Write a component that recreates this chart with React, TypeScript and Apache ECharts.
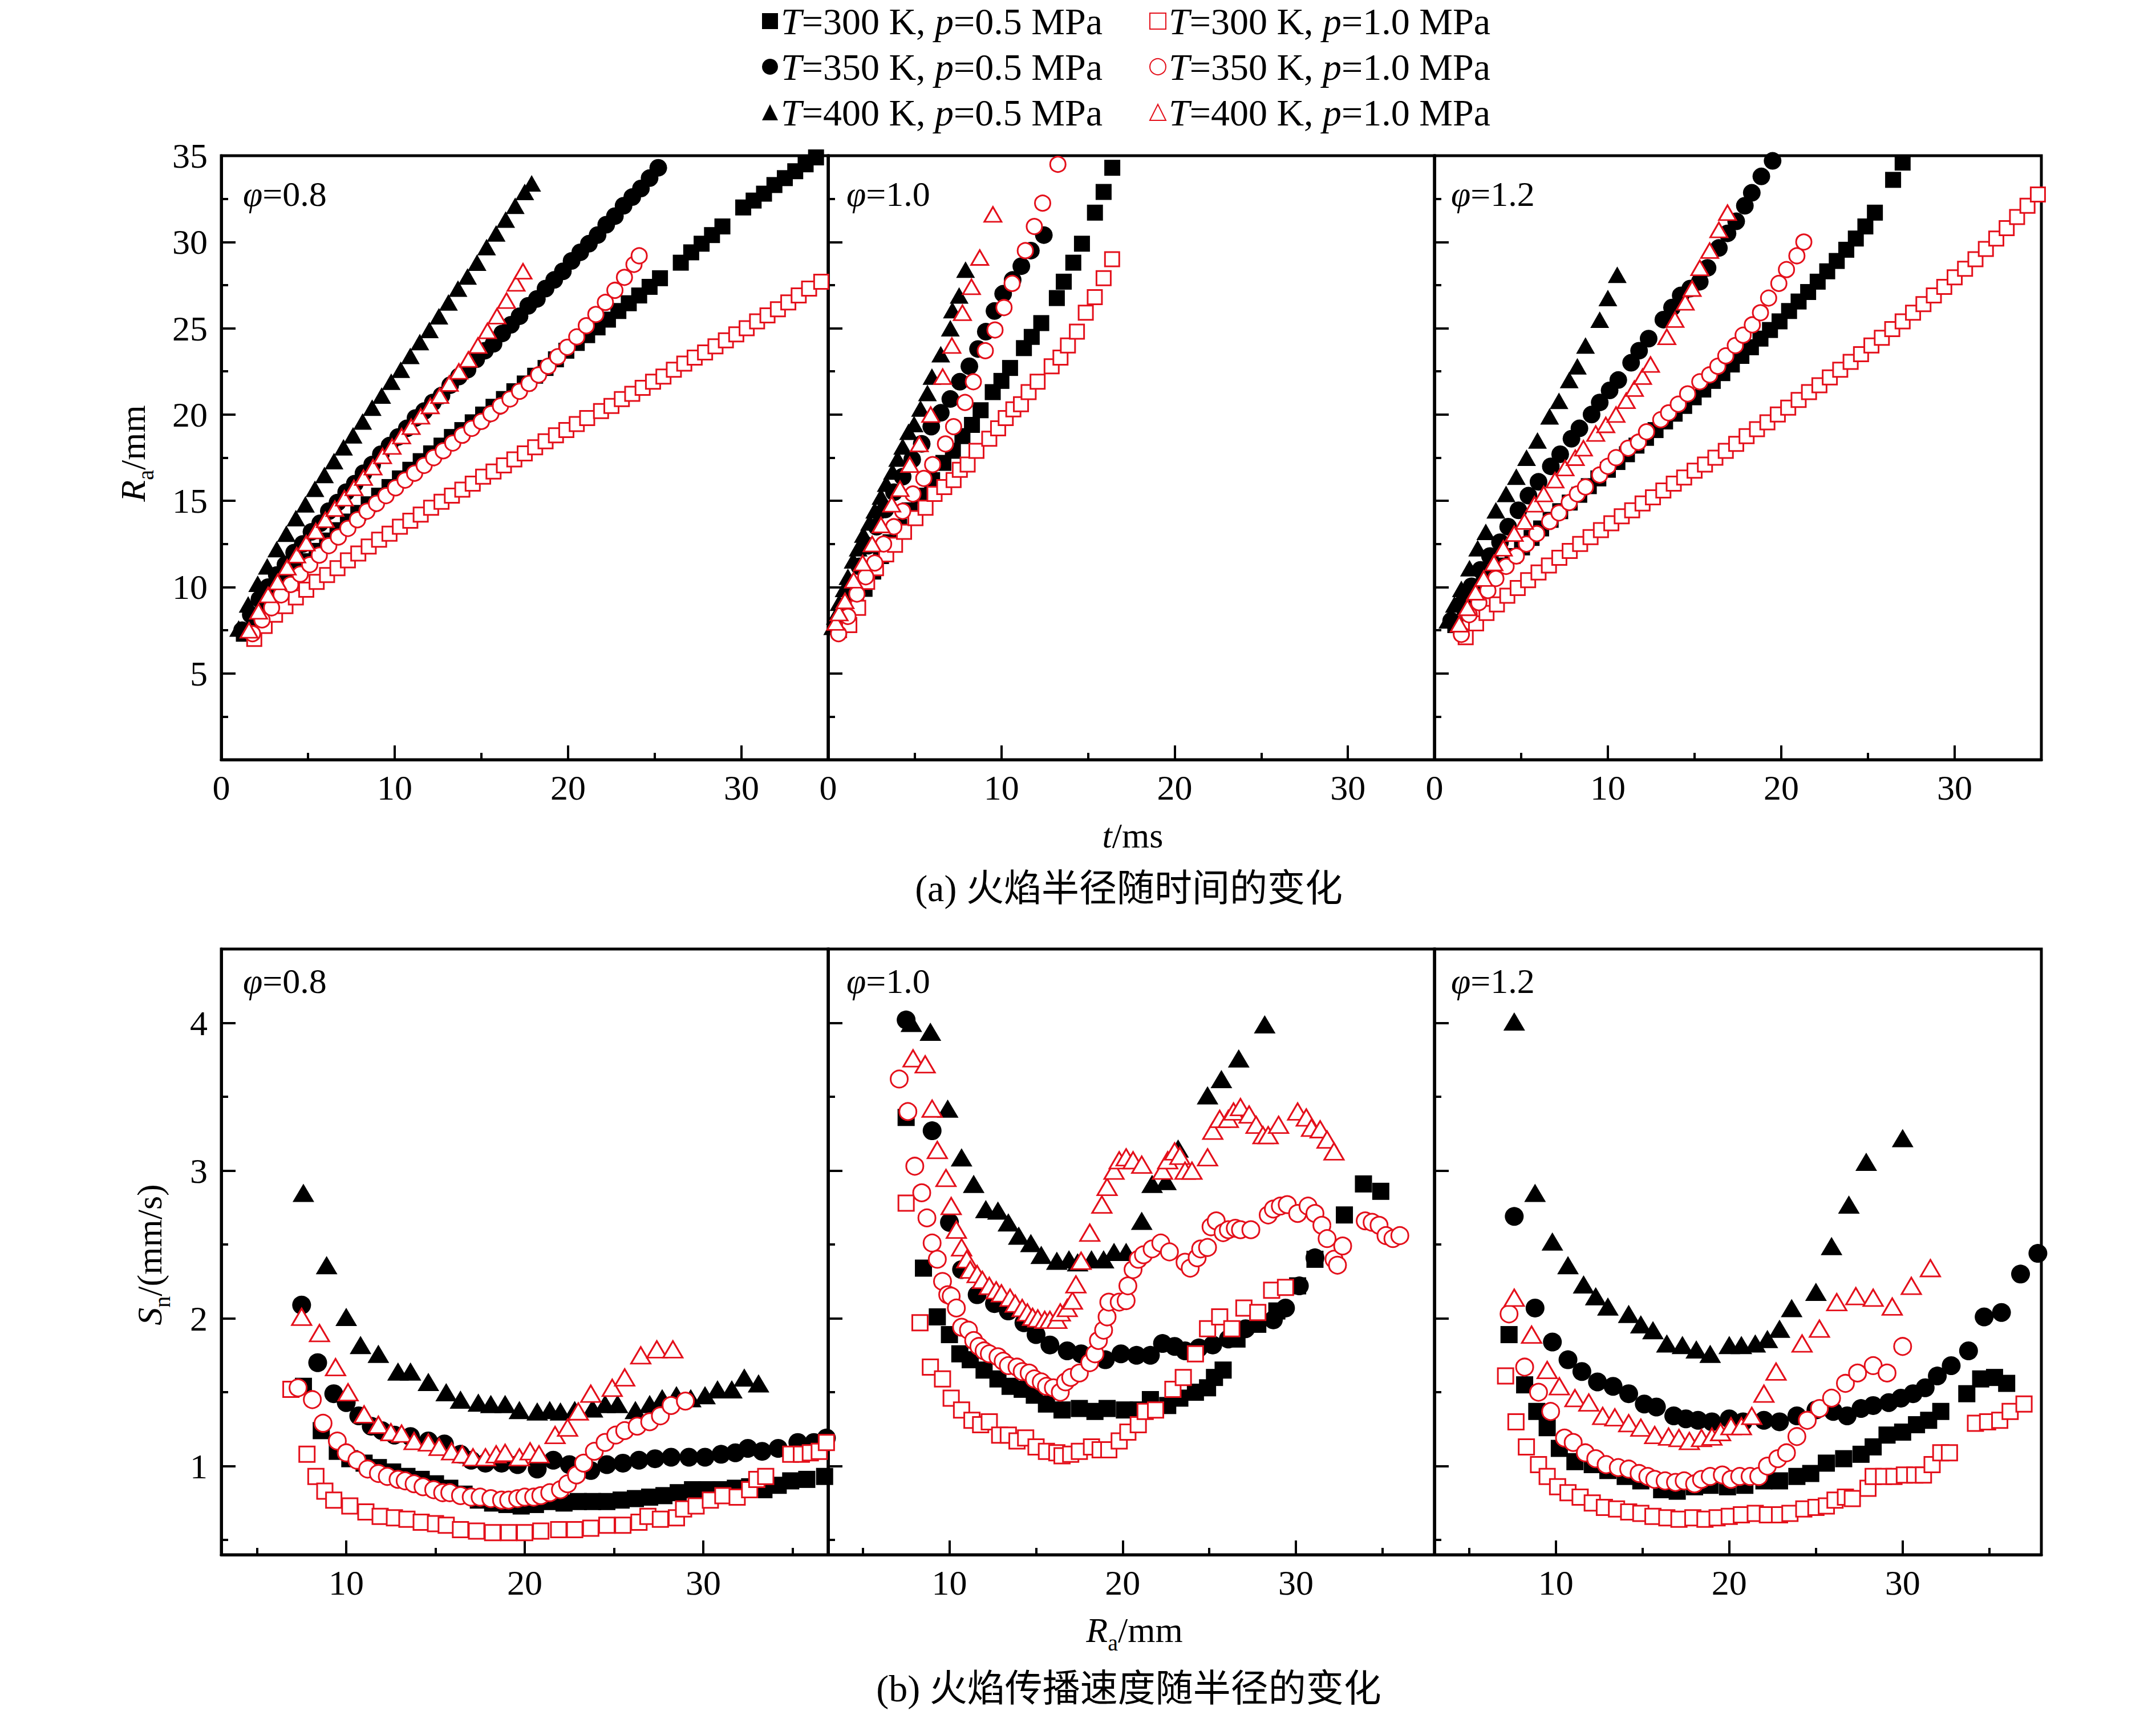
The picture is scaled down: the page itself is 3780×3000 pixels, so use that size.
import React, { useEffect, useRef } from 'react';
import * as echarts from 'echarts';

// ---- (a) flame radius R_a (mm) vs time t (ms) ----
// phi = 0.8
const rT08_300_05 = [[1.3,7.3],[1.9,8.2],[2.5,9.0],[3.1,9.7],[3.7,10.35],[4.3,10.95],[4.9,11.5],[5.5,12.1],[6.1,12.7],[6.7,13.3],[7.3,13.8],[7.9,14.3],[8.5,14.8],[9.1,15.3],[9.7,15.8],[10.3,16.3],[10.9,16.8],[11.5,17.3],[12.1,17.75],[12.7,18.2],[13.3,18.7],[13.9,19.1],[14.5,19.55],[15.1,20.0],[15.7,20.45],[16.3,20.9],[16.9,21.35],[17.5,21.8],[18.1,22.25],[18.7,22.7],[19.3,23.2],[19.9,23.7],[20.5,24.15],[21.1,24.6],[21.7,25.05],[22.3,25.5],[22.9,26.0],[23.5,26.45],[24.1,26.9],[24.7,27.4],[25.3,27.9],[26.5,28.8],[27.1,29.4],[27.7,29.9],[28.3,30.4],[28.9,30.9],[30.1,32.0],[30.7,32.4],[31.3,32.8],[31.9,33.3],[32.5,33.7],[33.1,34.1],[33.7,34.5],[34.3,34.9]];
const rT08_350_05 = [[1.2,7.5],[1.7,8.4],[2.2,9.3],[2.7,10.0],[3.2,10.7],[3.7,11.3],[4.2,12.0],[4.7,12.5],[5.2,13.2],[5.7,13.7],[6.2,14.4],[6.7,14.9],[7.2,15.5],[7.7,16.0],[8.2,16.6],[8.7,17.1],[9.2,17.7],[9.7,18.2],[10.2,18.7],[10.7,19.2],[11.2,19.8],[11.7,20.2],[12.2,20.7],[12.7,21.1],[13.2,21.7],[13.7,22.2],[14.2,22.6],[14.7,23.2],[15.2,23.7],[15.7,24.1],[16.2,24.7],[16.7,25.2],[17.2,25.7],[17.7,26.3],[18.2,26.7],[18.7,27.3],[19.2,27.8],[19.7,28.3],[20.2,28.9],[20.7,29.4],[21.2,29.9],[21.7,30.4],[22.2,31.0],[22.7,31.5],[23.2,32.1],[23.7,32.6],[24.2,33.1],[24.7,33.7],[25.2,34.3]];
const rT08_400_05 = [[1.0,7.6],[1.55,9.0],[2.1,10.2],[2.65,11.2],[3.2,12.2],[3.75,13.1],[4.3,14.0],[4.85,14.8],[5.4,15.7],[5.95,16.5],[6.5,17.3],[7.05,18.1],[7.6,18.8],[8.15,19.6],[8.7,20.4],[9.25,21.1],[9.8,21.9],[10.35,22.6],[10.9,23.4],[11.45,24.2],[12.0,24.9],[12.55,25.7],[13.1,26.5],[13.65,27.3],[14.2,28.0],[14.75,28.8],[15.3,29.7],[15.85,30.5],[16.4,31.3],[16.95,32.1],[17.5,32.9],[17.9,33.4]];
const rT08_300_10 = [[1.9,7.0],[2.5,7.75],[3.1,8.4],[3.7,8.9],[4.3,9.4],[4.9,9.85],[5.5,10.3],[6.1,10.7],[6.7,11.1],[7.3,11.55],[7.9,11.95],[8.5,12.35],[9.1,12.75],[9.7,13.1],[10.3,13.5],[10.9,13.85],[11.5,14.2],[12.1,14.6],[12.7,14.95],[13.3,15.3],[13.9,15.65],[14.5,16.0],[15.1,16.4],[15.7,16.7],[16.3,17.05],[16.9,17.4],[17.5,17.75],[18.1,18.1],[18.7,18.45],[19.3,18.8],[19.9,19.1],[20.5,19.45],[21.1,19.8],[21.9,20.2],[22.5,20.5],[23.1,20.9],[23.7,21.2],[24.3,21.55],[24.9,21.9],[25.5,22.2],[26.1,22.6],[26.7,22.95],[27.3,23.3],[27.9,23.6],[28.5,23.95],[29.1,24.3],[29.7,24.65],[30.3,25.0],[30.9,25.4],[31.5,25.75],[32.1,26.1],[32.7,26.5],[33.3,26.9],[33.9,27.3],[34.6,27.7]];
const rT08_350_10 = [[1.8,7.3],[2.35,8.1],[2.9,8.8],[3.45,9.55],[4.0,10.15],[4.55,10.75],[5.1,11.3],[5.65,11.85],[6.2,12.4],[6.75,12.9],[7.3,13.4],[7.85,13.9],[8.4,14.4],[8.95,14.85],[9.5,15.3],[10.05,15.75],[10.6,16.2],[11.15,16.6],[11.7,17.05],[12.25,17.5],[12.8,17.9],[13.35,18.35],[13.9,18.8],[14.45,19.2],[15.0,19.6],[15.55,20.05],[16.1,20.5],[16.65,20.9],[17.2,21.35],[17.75,21.8],[18.3,22.3],[18.85,22.8],[19.4,23.35],[19.95,23.9],[20.5,24.5],[21.05,25.15],[21.6,25.8],[22.15,26.5],[22.7,27.2],[23.25,27.95],[23.8,28.7],[24.1,29.2]];
const rT08_400_10 = [[1.6,7.5],[2.15,8.6],[2.7,9.55],[3.25,10.3],[3.8,11.15],[4.35,11.85],[4.9,12.55],[5.45,13.25],[6.0,13.9],[6.55,14.55],[7.1,15.15],[7.65,15.75],[8.2,16.35],[8.75,16.95],[9.3,17.6],[9.85,18.15],[10.4,18.75],[10.95,19.3],[11.5,19.9],[12.05,20.5],[12.6,21.1],[13.15,21.8],[13.7,22.5],[14.25,23.2],[14.8,24.0],[15.35,24.85],[15.9,25.7],[16.45,26.6],[17.0,27.6],[17.4,28.3]];

// phi = 1.0
const rT10_300_05 = [[0.63,7.7],[1.07,8.4],[1.6,9.2],[2.1,9.9],[2.6,10.9],[3.05,11.8],[3.6,12.6],[4.1,13.5],[4.7,14.45],[5.25,15.3],[6.0,16.2],[6.65,17.2],[7.2,17.9],[7.75,18.75],[8.3,19.4],[8.8,20.25],[9.5,21.3],[10.0,21.95],[10.5,22.7],[11.3,23.85],[11.75,24.5],[12.3,25.3],[13.2,26.75],[13.6,27.7],[14.15,28.8],[14.65,29.9],[15.4,31.7],[15.9,32.9],[16.4,34.3]];
const rT10_350_05 = [[0.5,7.8],[0.9,8.9],[1.35,10.1],[1.8,11.2],[2.3,12.4],[2.8,13.5],[3.3,14.5],[3.8,15.5],[4.3,16.4],[4.85,17.4],[5.4,18.3],[5.95,19.3],[6.5,20.1],[7.05,20.9],[7.6,21.9],[8.15,22.8],[8.65,23.8],[9.1,24.8],[9.6,26.0],[10.1,27.0],[10.65,27.8],[11.15,28.6],[11.7,29.5],[12.45,30.4]];
const rT10_400_05 = [[0.26,7.7],[0.41,8.3],[0.63,9.1],[0.92,9.9],[1.14,10.6],[1.44,11.55],[1.73,12.25],[2.03,13.05],[2.39,13.75],[2.69,14.45],[3.05,15.25],[3.35,16.0],[3.71,16.7],[4.01,17.45],[4.3,18.15],[4.64,19.0],[4.96,19.45],[5.33,20.35],[5.73,21.25],[5.99,22.2],[6.5,23.5],[7.05,25.0],[7.17,26.05],[7.56,26.9],[7.93,28.4]];
const rT10_300_10 = [[0.63,7.5],[1.22,7.8],[1.73,8.8],[2.25,10.3],[2.76,11.1],[3.35,11.9],[3.86,12.45],[4.38,13.2],[5.04,14.0],[5.62,14.6],[6.14,15.4],[6.7,15.8],[7.24,16.2],[7.6,16.8],[8.05,17.1],[8.56,17.9],[9.3,18.6],[9.81,19.2],[10.25,19.8],[10.69,20.3],[11.13,20.6],[11.57,21.3],[12.09,21.9],[12.9,22.8],[13.41,23.3],[13.84,24.0],[14.36,24.8],[14.87,25.9],[15.39,26.8],[15.9,27.9],[16.39,29.0]];
const rT10_350_10 = [[0.6,7.3],[1.14,8.3],[1.66,9.6],[2.17,10.6],[2.69,11.4],[3.2,12.5],[3.79,13.5],[4.3,14.4],[4.89,15.4],[5.52,16.3],[6.03,17.1],[6.77,18.3],[7.24,19.3],[7.9,20.7],[8.38,21.9],[9.07,23.7],[9.63,24.9],[10.15,26.2],[10.62,27.6],[11.38,29.5],[11.9,30.9],[12.38,32.25],[13.26,34.5]];
const rT10_400_10 = [[0.44,7.95],[0.63,8.5],[0.97,9.2],[1.47,10.4],[1.99,11.4],[2.54,12.5],[3.05,13.6],[3.67,14.8],[4.15,15.7],[4.71,17.1],[5.26,18.3],[5.92,20.0],[6.61,22.2],[7.14,24.0],[7.75,25.9],[8.27,27.4],[8.75,29.1],[9.51,31.6]];

// phi = 1.2
const rT12_300_05 = [[1.2,7.8],[1.75,8.75],[2.3,9.45],[2.85,10.1],[3.4,10.7],[3.95,11.25],[4.5,11.8],[5.05,12.3],[5.6,12.85],[6.15,13.4],[6.7,13.9],[7.25,14.4],[7.8,14.9],[8.35,15.35],[8.9,15.85],[9.45,16.3],[10.0,16.8],[10.55,17.25],[11.1,17.7],[11.65,18.2],[12.2,18.65],[12.75,19.1],[13.3,19.6],[13.85,20.05],[14.4,20.5],[14.95,21.0],[15.5,21.45],[16.05,21.95],[16.6,22.4],[17.15,22.9],[17.7,23.4],[18.25,23.9],[18.8,24.4],[19.35,24.9],[19.9,25.4],[20.45,26.0],[21.0,26.55],[21.55,27.1],[22.1,27.7],[22.65,28.3],[23.2,28.9],[23.75,29.55],[24.3,30.2],[24.85,30.9],[25.4,31.7],[26.45,33.6],[27.0,34.6]];
const rT12_350_05 = [[0.96,8.05],[1.55,9.0],[2.14,10.05],[2.65,11.0],[3.2,11.8],[3.78,12.6],[4.25,13.5],[4.84,14.45],[5.42,15.3],[6.0,16.1],[6.71,17.0],[7.25,17.7],[7.9,18.6],[8.36,19.2],[9.06,20.0],[9.53,20.7],[10.1,21.4],[10.6,22.0],[11.34,23.0],[11.8,23.7],[12.35,24.4],[13.2,25.5],[13.7,26.2],[14.2,26.9],[14.75,27.3],[15.3,27.7],[15.75,28.5],[16.4,29.65],[16.9,30.5],[17.4,31.2],[17.9,32.1],[18.3,32.85],[18.85,33.8],[19.5,34.7]];
const rT12_400_05 = [[0.77,8.07],[1.15,9.0],[1.55,9.9],[2.02,11.1],[2.49,12.25],[2.96,13.2],[3.54,14.45],[4.13,15.4],[4.72,16.4],[5.31,17.5],[5.94,18.5],[6.64,19.9],[7.18,20.8],[7.77,22.0],[8.24,22.8],[8.71,24.0],[9.53,25.5],[10.0,26.75],[10.54,28.1]];
const rT12_300_10 = [[1.8,7.1],[2.4,7.9],[3.0,8.5],[3.6,9.0],[4.2,9.5],[4.8,9.95],[5.4,10.4],[6.0,10.85],[6.6,11.25],[7.2,11.7],[7.8,12.1],[8.4,12.5],[9.0,12.9],[9.6,13.3],[10.2,13.7],[10.8,14.1],[11.4,14.45],[12.0,14.85],[12.6,15.2],[13.2,15.6],[13.8,16.0],[14.4,16.35],[15.0,16.75],[15.6,17.1],[16.2,17.5],[16.8,17.9],[17.4,18.3],[18.0,18.75],[18.6,19.15],[19.2,19.55],[19.8,20.0],[20.4,20.4],[21.0,20.85],[21.6,21.3],[22.2,21.7],[22.8,22.15],[23.4,22.6],[24.0,23.05],[24.6,23.5],[25.2,24.0],[25.8,24.45],[26.4,24.95],[27.0,25.4],[27.6,25.9],[28.2,26.4],[28.8,26.9],[29.4,27.4],[30.0,27.95],[30.6,28.45],[31.2,29.0],[31.8,29.6],[32.4,30.2],[33.0,30.8],[33.6,31.45],[34.2,32.1],[34.8,32.75]];
const rT12_350_10 = [[1.55,7.26],[2.0,8.4],[2.56,9.1],[3.08,9.8],[3.54,10.5],[4.13,11.2],[4.72,11.8],[5.3,12.5],[5.9,13.1],[6.64,13.8],[7.18,14.3],[7.77,14.9],[8.24,15.4],[8.71,15.8],[9.53,16.5],[10.0,17.0],[10.47,17.5],[11.17,18.05],[11.76,18.4],[12.23,19.0],[13.05,19.7],[13.5,20.1],[14.06,20.6],[14.6,21.2],[15.3,21.9],[15.87,22.3],[16.34,22.8],[16.8,23.4],[17.35,24.0],[17.8,24.6],[18.33,25.2],[18.8,25.9],[19.27,26.75],[19.86,27.6],[20.3,28.4],[20.9,29.2],[21.3,30.0]];
const rT12_400_10 = [[1.43,7.85],[1.9,8.8],[2.37,9.7],[2.84,10.5],[3.43,11.4],[3.97,12.25],[4.6,13.1],[5.19,13.8],[5.77,14.8],[6.3,15.4],[6.95,16.2],[7.53,16.9],[8.12,17.5],[8.59,18.05],[9.3,18.9],[9.88,19.4],[10.47,20.0],[11.06,20.8],[11.53,21.5],[12.0,22.2],[12.46,22.9],[13.4,24.5],[13.87,25.5],[14.46,26.5],[14.86,27.3],[15.3,28.5],[15.87,29.5],[16.4,30.7],[16.9,31.7]];

// ---- (b) flame speed S_n vs radius R_a (mm) ----
// phi = 0.8
const sR08_300_05 = [[7.6,1.54],[8.6,1.24],[9.5,1.10],[10.2,1.05],[11.0,1.02],[11.8,0.99],[12.6,0.96],[13.4,0.93],[14.2,0.91],[15.0,0.88],[15.8,0.85],[16.6,0.81],[17.4,0.77],[18.2,0.75],[19.0,0.74],[19.8,0.73],[20.6,0.74],[21.4,0.76],[22.2,0.75],[23.0,0.76],[23.8,0.76],[24.6,0.76],[25.4,0.77],[26.2,0.78],[27.0,0.79],[27.8,0.80],[28.6,0.82],[29.4,0.84],[30.2,0.84],[31.0,0.84],[31.8,0.85],[32.6,0.86],[33.4,0.84],[34.2,0.87],[34.9,0.90],[35.8,0.91],[36.8,0.93]];
const sR08_350_05 = [[7.5,2.09],[8.4,1.70],[9.3,1.49],[10.0,1.43],[10.7,1.34],[11.4,1.27],[12.0,1.24],[12.7,1.21],[13.6,1.20],[14.6,1.17],[15.5,1.15],[16.4,1.08],[17.0,1.04],[17.8,1.02],[18.7,1.02],[19.6,1.01],[20.7,0.98],[21.6,1.04],[22.5,1.01],[23.7,0.97],[24.6,1.01],[25.5,1.02],[26.4,1.04],[27.3,1.05],[28.2,1.06],[29.2,1.06],[30.1,1.06],[31.0,1.08],[31.8,1.09],[32.5,1.12],[33.3,1.10],[34.2,1.12],[35.3,1.16],[36.2,1.16],[36.9,1.19]];
const sR08_400_05 = [[7.6,2.85],[8.9,2.36],[10.0,2.01],[10.8,1.82],[11.8,1.76],[12.9,1.64],[13.6,1.64],[14.6,1.57],[15.6,1.50],[16.4,1.45],[17.4,1.43],[18.1,1.42],[18.9,1.42],[19.7,1.38],[20.7,1.37],[21.4,1.38],[22.0,1.37],[22.8,1.38],[23.8,1.39],[24.5,1.42],[25.2,1.42],[26.2,1.38],[27.0,1.42],[27.7,1.46],[28.5,1.48],[29.3,1.46],[30.1,1.48],[30.8,1.52],[31.6,1.52],[32.3,1.60],[33.1,1.56]];
const sR08_300_10 = [[6.9,1.52],[7.8,1.08],[8.3,0.93],[8.8,0.83],[9.3,0.77],[10.2,0.73],[11.1,0.69],[11.9,0.66],[12.7,0.65],[13.4,0.64],[14.2,0.62],[15.0,0.61],[15.6,0.60],[16.4,0.57],[17.3,0.56],[18.2,0.55],[19.1,0.55],[20.0,0.55],[20.9,0.56],[21.9,0.57],[22.8,0.57],[23.7,0.58],[24.6,0.60],[25.5,0.60],[26.4,0.62],[26.9,0.66],[27.6,0.64],[28.5,0.65],[28.9,0.71],[29.6,0.73],[30.4,0.77],[31.1,0.80],[31.9,0.79],[32.6,0.84],[33.0,0.91],[33.5,0.93],[34.9,1.08],[35.5,1.08],[36.0,1.09],[36.5,1.10],[36.9,1.16]];
const sR08_350_10 = [[7.3,1.53],[8.1,1.45],[8.7,1.29],[9.5,1.17],[10.0,1.09],[10.6,1.04],[11.2,0.98],[11.8,0.95],[12.3,0.93],[12.9,0.91],[13.3,0.90],[13.8,0.88],[14.3,0.86],[14.9,0.84],[15.4,0.82],[15.8,0.82],[16.4,0.80],[17.0,0.79],[17.5,0.79],[18.1,0.78],[18.7,0.77],[19.1,0.77],[19.6,0.78],[20.0,0.79],[20.5,0.79],[20.9,0.80],[21.4,0.82],[22.0,0.84],[22.4,0.88],[22.9,0.94],[23.3,1.02],[23.9,1.10],[24.5,1.16],[25.1,1.21],[25.6,1.24],[26.3,1.27],[27.0,1.30],[27.6,1.34],[28.2,1.41],[29.0,1.44]];
const sR08_400_10 = [[7.5,2.01],[8.5,1.90],[9.4,1.67],[10.1,1.50],[11.0,1.35],[11.8,1.28],[12.5,1.23],[13.1,1.22],[13.8,1.17],[14.6,1.16],[15.2,1.13],[15.9,1.10],[16.5,1.08],[17.1,1.06],[17.8,1.06],[18.4,1.08],[18.9,1.09],[19.7,1.06],[20.3,1.10],[20.8,1.08],[21.7,1.21],[22.4,1.26],[23.0,1.37],[23.7,1.49],[24.9,1.53],[25.6,1.60],[26.5,1.75],[27.4,1.79],[28.3,1.79]];

// phi = 1.0
const sR10_300_05 = [[7.5,3.36],[8.5,2.34],[9.3,2.01],[10.0,1.89],[10.6,1.76],[11.2,1.72],[12.0,1.65],[12.8,1.59],[13.5,1.54],[14.2,1.52],[14.9,1.48],[15.6,1.42],[16.5,1.38],[17.5,1.39],[18.4,1.37],[19.1,1.39],[20.1,1.38],[20.9,1.38],[21.6,1.45],[22.6,1.41],[23.3,1.46],[24.2,1.50],[24.9,1.53],[25.3,1.60],[25.8,1.65],[26.6,1.86],[27.8,1.96],[28.9,2.05],[30.1,2.22],[31.1,2.40],[32.8,2.70],[33.9,2.91],[34.9,2.86]];
const sR10_350_05 = [[7.5,4.02],[9.0,3.27],[10.0,2.65],[10.7,2.33],[11.6,2.16],[12.6,2.10],[13.4,2.05],[14.3,1.97],[15.0,1.89],[15.8,1.82],[16.8,1.78],[17.6,1.76],[19.0,1.72],[19.9,1.76],[20.8,1.75],[21.6,1.75],[22.3,1.83],[23.0,1.81],[23.6,1.78],[24.4,1.80],[25.2,1.82],[26.1,1.86],[27.1,1.93],[27.9,1.99],[28.7,1.99],[29.4,2.07],[30.2,2.22],[31.1,2.41]];
const sR10_400_05 = [[7.8,4.00],[8.9,3.94],[9.9,3.42],[10.7,3.09],[11.4,2.91],[12.1,2.74],[12.8,2.73],[13.4,2.65],[14.0,2.56],[14.7,2.51],[15.3,2.43],[16.2,2.39],[16.9,2.40],[17.4,2.38],[18.2,2.40],[18.9,2.40],[19.5,2.45],[20.2,2.45],[21.1,2.66],[21.7,2.91],[22.5,2.93],[23.2,3.15],[24.9,3.51],[25.7,3.62],[26.7,3.76],[28.2,3.99]];
const sR10_300_10 = [[7.5,2.78],[8.3,1.97],[8.9,1.67],[9.6,1.59],[10.1,1.46],[10.7,1.38],[11.3,1.31],[11.8,1.28],[12.3,1.30],[12.9,1.21],[13.4,1.21],[13.9,1.17],[14.4,1.19],[15.0,1.13],[15.6,1.10],[16.2,1.09],[16.5,1.07],[17.0,1.08],[17.5,1.10],[18.2,1.13],[18.7,1.11],[19.2,1.11],[19.8,1.17],[20.3,1.23],[20.9,1.28],[21.3,1.37],[21.9,1.38],[22.9,1.52],[23.5,1.60],[24.2,1.76],[24.9,1.93],[25.6,2.01],[26.3,1.93],[27.0,2.07],[27.8,2.04],[28.6,2.19],[29.4,2.21]];
const sR10_350_10 = [[7.1,3.62],[7.6,3.40],[8.0,3.03],[8.4,2.85],[8.7,2.68],[9.0,2.51],[9.3,2.40],[9.6,2.25],[9.9,2.16],[10.1,2.15],[10.4,2.07],[10.7,1.94],[11.1,1.92],[11.4,1.85],[11.7,1.81],[12.0,1.78],[12.3,1.76],[12.8,1.74],[13.1,1.71],[13.4,1.68],[13.9,1.67],[14.2,1.64],[14.6,1.63],[14.9,1.59],[15.3,1.57],[15.6,1.54],[16.0,1.53],[16.4,1.50],[16.7,1.57],[17.0,1.60],[17.5,1.63],[18.1,1.70],[18.4,1.76],[18.6,1.85],[18.9,1.92],[19.1,2.01],[19.2,2.11],[19.8,2.11],[20.2,2.12],[20.3,2.22],[20.6,2.33],[20.9,2.40],[21.2,2.43],[21.7,2.47],[22.2,2.51],[22.7,2.45],[23.6,2.38],[23.9,2.34],[24.3,2.41],[24.5,2.47],[24.9,2.48],[25.1,2.62],[25.4,2.66],[25.8,2.58],[26.1,2.60],[26.5,2.61],[26.8,2.60],[27.4,2.60],[28.4,2.70],[28.7,2.74],[29.1,2.76],[29.5,2.77],[30.1,2.71],[30.7,2.76],[31.1,2.71],[31.5,2.63],[31.8,2.54],[32.2,2.40],[32.4,2.36],[32.7,2.49],[34.0,2.66],[34.4,2.65],[34.8,2.63],[35.2,2.56],[35.6,2.54],[36.0,2.56]];
const sR10_400_10 = [[7.9,3.76],[8.6,3.72],[9.0,3.42],[9.3,3.14],[9.8,2.95],[10.1,2.76],[10.4,2.60],[10.7,2.48],[11.0,2.40],[11.2,2.33],[11.6,2.30],[11.9,2.26],[12.3,2.22],[12.7,2.19],[13.0,2.17],[13.5,2.14],[13.8,2.10],[14.2,2.07],[14.5,2.04],[14.8,2.01],[15.1,2.00],[15.5,1.99],[15.8,1.99],[16.2,1.99],[16.4,2.04],[16.8,2.07],[17.1,2.12],[17.3,2.23],[17.6,2.39],[18.1,2.58],[18.8,2.77],[19.1,2.89],[19.5,3.00],[19.8,3.07],[20.2,3.09],[20.6,3.07],[21.1,3.04],[22.3,3.00],[22.6,3.07],[23.0,3.13],[23.3,3.10],[23.6,3.00],[24.0,3.00],[24.9,3.09],[25.2,3.27],[25.6,3.35],[26.1,3.35],[26.4,3.40],[26.8,3.43],[27.3,3.38],[27.7,3.31],[28.1,3.24],[28.4,3.24],[29.0,3.31],[30.1,3.40],[30.6,3.36],[30.9,3.29],[31.4,3.28],[31.8,3.21],[32.2,3.13]];

// phi = 1.2
const sR12_300_05 = [[7.3,1.89],[8.2,1.55],[8.9,1.37],[9.5,1.26],[10.2,1.12],[11.1,1.03],[12.1,1.01],[13.0,0.97],[14.0,0.93],[14.9,0.90],[16.1,0.84],[17.0,0.83],[18.0,0.86],[18.9,0.87],[19.9,0.86],[20.9,0.87],[22.0,0.90],[22.9,0.90],[23.9,0.93],[24.7,0.95],[25.6,1.02],[26.6,1.05],[27.6,1.08],[28.3,1.13],[29.1,1.21],[30.0,1.23],[30.8,1.28],[31.5,1.31],[32.2,1.37],[33.7,1.49],[34.5,1.59],[35.3,1.60],[36.0,1.56]];
const sR12_350_05 = [[7.6,2.69],[8.8,2.07],[9.8,1.84],[10.7,1.72],[11.5,1.64],[12.4,1.57],[13.3,1.54],[14.2,1.49],[15.1,1.42],[15.8,1.40],[16.8,1.34],[17.5,1.32],[18.2,1.31],[19.0,1.30],[20.0,1.32],[20.8,1.30],[22.0,1.31],[22.9,1.30],[23.9,1.34],[25.0,1.38],[26.0,1.37],[26.8,1.34],[27.6,1.39],[28.3,1.41],[29.2,1.43],[29.9,1.46],[30.6,1.49],[31.3,1.53],[32.0,1.61],[32.8,1.68],[33.8,1.78],[34.7,2.01],[35.7,2.04],[36.8,2.30],[37.8,2.44]];
const sR12_400_05 = [[7.6,4.01],[8.8,2.85],[9.8,2.52],[10.7,2.36],[11.6,2.23],[12.3,2.15],[13.0,2.08],[14.2,2.03],[14.9,1.96],[15.6,1.92],[16.4,1.83],[17.3,1.82],[18.1,1.79],[18.9,1.76],[20.0,1.82],[20.7,1.82],[21.5,1.83],[22.2,1.86],[22.9,1.93],[23.6,2.07],[25.0,2.18],[25.9,2.49],[26.9,2.77],[27.9,3.06],[30.0,3.22]];
const sR12_300_10 = [[7.1,1.61],[7.7,1.30],[8.3,1.13],[9.0,1.01],[9.5,0.93],[10.1,0.86],[10.7,0.82],[11.4,0.79],[12.1,0.75],[12.8,0.72],[13.5,0.71],[14.2,0.69],[14.9,0.68],[15.6,0.66],[16.4,0.65],[17.1,0.64],[17.9,0.65],[18.6,0.64],[19.3,0.65],[20.0,0.66],[20.7,0.67],[21.5,0.68],[22.2,0.67],[22.9,0.67],[23.5,0.68],[24.3,0.71],[25.0,0.72],[25.6,0.73],[26.1,0.77],[26.7,0.79],[27.1,0.78],[28.0,0.85],[28.3,0.93],[28.9,0.93],[29.5,0.93],[30.1,0.94],[30.7,0.94],[31.2,0.94],[31.7,1.01],[32.2,1.09],[32.7,1.09],[34.2,1.29],[34.9,1.30],[35.6,1.31],[36.2,1.37],[37.0,1.42]];
const sR12_350_10 = [[7.3,2.03],[8.2,1.67],[9.0,1.50],[9.7,1.37],[10.5,1.19],[11.0,1.16],[11.7,1.09],[12.3,1.05],[12.9,1.01],[13.6,0.99],[14.2,0.98],[14.8,0.95],[15.3,0.93],[15.7,0.91],[16.3,0.90],[16.9,0.89],[17.4,0.90],[18.0,0.88],[18.4,0.91],[18.9,0.93],[19.6,0.94],[20.1,0.91],[20.6,0.93],[21.2,0.93],[21.7,0.93],[22.2,1.00],[22.8,1.05],[23.3,1.09],[23.9,1.20],[24.5,1.31],[25.2,1.39],[25.9,1.46],[26.7,1.56],[27.4,1.63],[28.3,1.68],[29.1,1.63],[30.0,1.81]];
const sR12_400_10 = [[7.6,2.14],[8.6,1.89],[9.5,1.65],[10.2,1.54],[11.1,1.46],[11.9,1.43],[12.7,1.34],[13.4,1.33],[14.2,1.29],[14.9,1.26],[15.7,1.21],[16.5,1.20],[17.1,1.19],[17.7,1.17],[18.4,1.19],[19.0,1.20],[19.5,1.23],[20.1,1.27],[20.7,1.27],[21.3,1.34],[22.0,1.49],[22.7,1.64],[24.2,1.83],[25.2,1.93],[26.2,2.11],[27.3,2.15],[28.3,2.14],[29.4,2.08],[30.5,2.22],[31.6,2.34]];

const seriesNames = [
  'T=300 K, p=0.5 MPa',
  'T=350 K, p=0.5 MPa',
  'T=400 K, p=0.5 MPa',
  'T=300 K, p=1.0 MPa',
  'T=350 K, p=1.0 MPa',
  'T=400 K, p=1.0 MPa',
];
const phiLabels = ['0.8', '1.0', '1.2'];

const topData = [
  [rT08_300_05, rT08_350_05, rT08_400_05, rT08_300_10, rT08_350_10, rT08_400_10],
  [rT10_300_05, rT10_350_05, rT10_400_05, rT10_300_10, rT10_350_10, rT10_400_10],
  [rT12_300_05, rT12_350_05, rT12_400_05, rT12_300_10, rT12_350_10, rT12_400_10],
];
const bottomData = [
  [sR08_300_05, sR08_350_05, sR08_400_05, sR08_300_10, sR08_350_10, sR08_400_10],
  [sR10_300_05, sR10_350_05, sR10_400_05, sR10_300_10, sR10_350_10, sR10_400_10],
  [sR12_300_05, sR12_350_05, sR12_400_05, sR12_300_10, sR12_350_10, sR12_400_10],
];

const SERIF = '"Liberation Serif", "Times New Roman", serif';
const CAPTION_FONT = '"Liberation Serif", "Noto Sans CJK SC", serif';
const RED = '#e4101b';

// marker look per condition (top panel size, bottom panel size)
const markerStyle = [
  { symbol: 'rect', red: false, top: 28, bottom: 30 },
  { symbol: 'circle', red: false, top: 31, bottom: 33 },
  { symbol: 'triangle', red: false, top: [33, 29], bottom: [38, 32] },
  { symbol: 'rect', red: true, top: 25, bottom: 27 },
  { symbol: 'circle', red: true, top: 27, bottom: 30 },
  { symbol: 'triangle', red: true, top: [30, 26], bottom: [34, 29] },
];

const panelLeft = [388, 1452, 2515];
const panelWidth = [1064, 1063, 1064];
const TOP_Y = 273;
const TOP_H = 1059;
const BOT_Y = 1664;
const BOT_H = 1062;

const LABEL_SIZE = 62;
const LEGEND_SIZE = 66;

function FlameChart() {
  const chartRef = useRef<HTMLDivElement | null>(null);

  useEffect(() => {
    if (!chartRef.current) return undefined;
    const chart = echarts.init(chartRef.current, null, { renderer: 'svg' });

    const axisLine = { show: true, onZero: false, lineStyle: { color: '#000', width: 5 } };
    const axisTick = { show: true, inside: true, length: 25, lineStyle: { color: '#000', width: 4 } };
    const minorTick = { show: true, splitNumber: 2, length: 12, lineStyle: { color: '#000', width: 4 } };
    const labelText = { color: '#000', fontFamily: SERIF, fontSize: LABEL_SIZE };

    const grids: any[] = [];
    const xAxes: any[] = [];
    const yAxes: any[] = [];
    const series: any[] = [];

    for (let row = 0; row < 2; row++) {
      for (let i = 0; i < 3; i++) {
        const idx = row * 3 + i;
        grids.push({
          left: panelLeft[i],
          top: row === 0 ? TOP_Y : BOT_Y,
          width: panelWidth[i],
          height: row === 0 ? TOP_H : BOT_H,
          show: true,
          borderColor: '#000',
          borderWidth: 5,
          backgroundColor: 'transparent',
          containLabel: false,
          outerBoundsMode: 'none',
        });
        if (row === 0) {
          xAxes.push({
            gridIndex: idx, type: 'value', min: 0, max: 35, interval: 10,
            axisLine, axisTick, minorTick,
            splitLine: { show: false }, minorSplitLine: { show: false },
            axisLabel: { ...labelText, margin: 18, showMaxLabel: false },
          });
          yAxes.push({
            gridIndex: idx, type: 'value', min: 0, max: 35, interval: 5,
            axisLine, axisTick, minorTick,
            splitLine: { show: false }, minorSplitLine: { show: false },
            axisLabel: { ...labelText, show: i === 0, margin: 24, showMinLabel: false },
          });
        } else {
          xAxes.push({
            gridIndex: idx, type: 'value', min: 3, max: i === 0 ? 37 : 38, splitNumber: 4,
            axisLine, axisTick, minorTick,
            splitLine: { show: false }, minorSplitLine: { show: false },
            axisLabel: { ...labelText, margin: 18, showMinLabel: false, showMaxLabel: false },
          });
          yAxes.push({
            gridIndex: idx, type: 'value', min: 0.4, max: 4.5,
            axisLine, axisTick, minorTick,
            splitLine: { show: false }, minorSplitLine: { show: false },
            axisLabel: { ...labelText, show: i === 0, margin: 24, showMinLabel: false, showMaxLabel: false },
          });
        }
        const panelData = row === 0 ? topData[i] : bottomData[i];
        panelData.forEach((data, k) => {
          const m = markerStyle[k];
          series.push({
            type: 'scatter',
            name: seriesNames[k],
            xAxisIndex: idx,
            yAxisIndex: idx,
            data,
            symbol: m.symbol,
            symbolSize: row === 0 ? m.top : m.bottom,
            itemStyle: m.red
              ? { color: '#ffffff', borderColor: RED, borderWidth: 3, opacity: 1 }
              : { color: '#000000', borderWidth: 0, opacity: 1 },
            emphasis: { disabled: true },
            z: 2 + k,
          });
        });
      }
    }

    const legendText = {
      color: '#000',
      fontFamily: SERIF,
      fontSize: LEGEND_SIZE,
      lineHeight: 66,
      rich: {
        i: { fontStyle: 'italic', fontFamily: SERIF, fontSize: LEGEND_SIZE, lineHeight: 66, color: '#000' },
      },
    };
    const legendFormatter = (name: string) =>
      name.replace('T=', '{i|T}=').replace('p=', '{i|p}=');
    const legendBase = {
      orient: 'vertical',
      top: 4,
      padding: 0,
      itemWidth: 28,
      itemHeight: 28,
      itemGap: 14,
      selectedMode: false,
      formatter: legendFormatter,
      textStyle: legendText,
    };

    const italicRich = (size: number) => ({
      i: { fontStyle: 'italic', fontFamily: SERIF, fontSize: size, lineHeight: 84, fill: '#000' },
      n: { fontFamily: SERIF, fontSize: size, lineHeight: 84, fill: '#000' },
      s: { fontFamily: SERIF, fontSize: 40, lineHeight: 40, verticalAlign: 'bottom', fill: '#000' },
    });

    const graphics: any[] = [];
    for (let i = 0; i < 3; i++) {
      const dx = [38, 32, 29][i];
      [340, 1720].forEach((y) => {
        graphics.push({
          type: 'text',
          x: panelLeft[i] + dx,
          y,
          style: {
            text: `{i|φ}{n|=${phiLabels[i]}}`,
            rich: italicRich(LABEL_SIZE),
            align: 'left',
            verticalAlign: 'middle',
          },
        });
      });
    }
    graphics.push(
      {
        type: 'text', x: 1986, y: 1465,
        style: { text: '{i|t}{n|/ms}', rich: italicRich(LABEL_SIZE), align: 'center', verticalAlign: 'middle' },
      },
      {
        type: 'text', x: 1989, y: 2858,
        style: { text: '{i|R}{s|a}{n|/mm}', rich: italicRich(LABEL_SIZE), align: 'center', verticalAlign: 'middle' },
      },
      {
        type: 'text', x: 233, y: 795, rotation: Math.PI / 2,
        style: { text: '{i|R}{s|a}{n|/mm}', rich: italicRich(LABEL_SIZE), align: 'center', verticalAlign: 'middle' },
      },
      {
        type: 'text', x: 262, y: 2200, rotation: Math.PI / 2,
        style: { text: '{i|S}{s|n}{n|/(mm/s)}', rich: italicRich(LABEL_SIZE), align: 'center', verticalAlign: 'middle' },
      },
      {
        type: 'text', x: 1979, y: 1557,
        style: { text: '(a) 火焰半径随时间的变化', fontFamily: CAPTION_FONT, fontSize: 66, fill: '#000', align: 'center', verticalAlign: 'middle' },
      },
      {
        type: 'text', x: 1979, y: 2960,
        style: { text: '(b) 火焰传播速度随半径的变化', fontFamily: CAPTION_FONT, fontSize: 66, fill: '#000', align: 'center', verticalAlign: 'middle' },
      },
    );

    chart.setOption({
      animation: false,
      backgroundColor: '#ffffff',
      tooltip: { show: false },
      legend: [
        { ...legendBase, left: 1336, data: seriesNames.slice(0, 3) },
        { ...legendBase, left: 2015, data: seriesNames.slice(3, 6) },
      ],
      grid: grids,
      xAxis: xAxes,
      yAxis: yAxes,
      series,
      graphic: graphics,
    });

    return () => {
      chart.dispose();
    };
  }, []);

  return (
    <div
      ref={chartRef}
      style={{ position: 'absolute', left: 0, top: 0, width: 3780, height: 3000, background: '#fff' }}
    />
  );
}

export default function App() {
  return <FlameChart />;
}
